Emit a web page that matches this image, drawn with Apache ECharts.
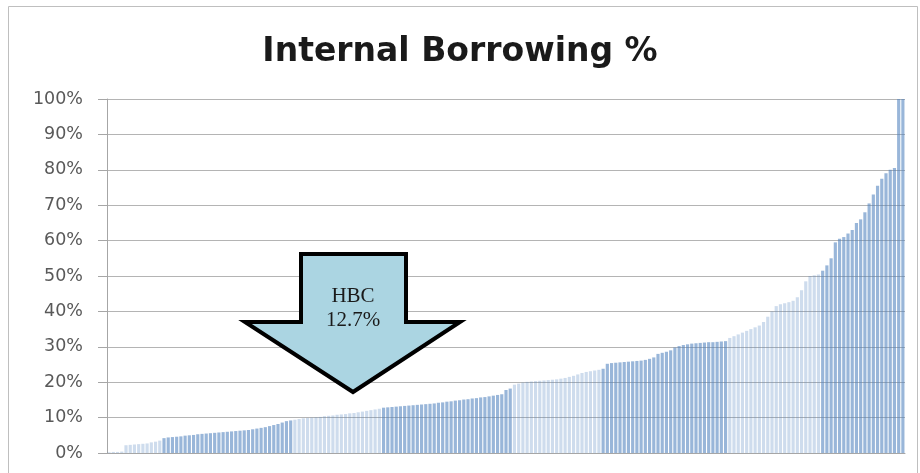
<!DOCTYPE html>
<html>
<head>
<meta charset="utf-8">
<script src="https://cdn.jsdelivr.net/npm/echarts@6/dist/echarts.min.js"></script>
<style>
html,body{margin:0;padding:0;background:#fff;}
#chart{width:920px;height:473px;}
</style>
</head>
<body>
<div id="chart"></div>
<script>
// Values (%), sorted ascending, grouped into alternating bands
const bandA = [0.2,0.3,0.3,0.4,2.2,2.3,2.4,2.5,2.6,2.7,3.0,3.2,3.5];
const bandB = [4.2,4.4,4.5,4.6,4.7,4.9,5.0,5.1,5.3,5.4,5.5,5.6,5.7,5.8,5.9,6.0,6.1,6.2,6.3,6.4,6.5,6.7,6.9,7.1,7.3,7.6,7.9,8.2,8.6,9.0,9.2];
const bandC = [9.4,9.6,9.8,9.9,10.0,10.1,10.2,10.4,10.5,10.6,10.8,10.9,11.0,11.2,11.3,11.5,11.7,11.9,12.1,12.3,12.5];
const bandD = [12.8,12.9,13.0,13.1,13.2,13.3,13.4,13.5,13.6,13.7,13.8,13.9,14.0,14.2,14.3,14.5,14.6,14.8,14.9,15.1,15.2,15.4,15.5,15.7,15.8,16.0,16.2,16.4,16.6,17.8,18.2];
const bandE = [19.3,19.6,19.9,20.1,20.2,20.3,20.4,20.5,20.6,20.7,20.8,21.0,21.2,21.5,21.8,22.2,22.6,22.9,23.1,23.3,23.5];
const bandF = [23.8,25.2,25.4,25.5,25.6,25.7,25.8,25.9,26.0,26.1,26.3,26.6,27.0,28.0,28.3,28.6,29.0,29.8,30.2,30.5,30.7,30.9,31.0,31.1,31.2,31.3,31.3,31.4,31.5,31.6];
const bandG = [32.5,33.0,33.5,34.0,34.5,35.0,35.5,36.0,37.0,38.5,40.0,41.5,42.0,42.3,42.6,43.0,44.0,46.0,48.5,50.0,50.2,50.4];
const bandH = [51.5,53.0,55.0,59.5,60.5,61.0,62.0,63.0,65.0,66.0,68.0,70.5,73.0,75.5,77.5,79.0,80.0,80.5,100,100];
const bands = [bandA,bandB,bandC,bandD,bandE,bandF,bandG,bandH];
const yTicks = [0,10,20,30,40,50,60,70,80,90,100];
const titleText = 'Internal Borrowing %';
const annotationLines = ['HBC','12.7%'];

const lightColor = 'rgba(79,129,189,0.28)';
const darkColor = 'rgba(79,129,189,0.58)';

const data = [];
const cats = [];
bands.forEach((b, bi) => {
  b.forEach(v => {
    cats.push(String(cats.length + 1));
    data.push({ value: v, itemStyle: { color: bi % 2 === 0 ? lightColor : darkColor } });
  });
});

const chart = echarts.init(document.getElementById('chart'), null, { renderer: 'canvas' });
chart.setOption({
  animation: false,
  backgroundColor: '#fff',
  title: {
    text: titleText,
    left: 'center',
    top: 31,
    textStyle: { fontFamily: 'DejaVu Sans', fontWeight: 'bold', fontSize: 33, color: '#1a1a1a' }
  },
  grid: { left: 107, right: 15, top: 99, bottom: 20, containLabel: false },
  xAxis: {
    type: 'category',
    data: cats,
    axisLine: { show: true, lineStyle: { color: '#a6a6a6', width: 1 } },
    axisTick: { show: false },
    axisLabel: { show: false },
    splitLine: { show: false }
  },
  yAxis: {
    type: 'value',
    min: yTicks[0],
    max: yTicks[yTicks.length - 1],
    interval: 10,
    axisLine: { show: true, lineStyle: { color: '#a6a6a6', width: 1 } },
    axisTick: { show: true, length: 9, lineStyle: { color: '#a6a6a6' } },
    axisLabel: { formatter: '{value}%', fontFamily: 'DejaVu Sans', fontSize: 17.5, color: '#595959', margin: 24 },
    splitLine: { show: true, lineStyle: { color: '#b4b4b4', width: 1 } }
  },
  series: [{
    type: 'bar',
    data: data,
    barCategoryGap: '25%',
    z: 3
  }],
  graphic: [
    {
      type: 'rect',
      shape: { x: 8.5, y: 6.5, width: 909, height: 480 },
      style: { fill: null, stroke: '#bfbfbf', lineWidth: 1 },
      silent: true
    },
    {
      type: 'polygon',
      z: 100,
      shape: { points: [[301,254],[406,254],[406,322],[460,322],[353,392],[245,322],[301,322]] },
      style: { fill: '#abd5e2', stroke: '#000', lineWidth: 4, lineJoin: 'miter' }
    },
    {
      type: 'text',
      z: 101,
      x: 353,
      y: 284,
      style: {
        text: annotationLines.join('\n'),
        fontFamily: 'Liberation Serif',
        fontSize: 21,
        lineHeight: 24,
        fill: '#1a1a1a',
        align: 'center',
        textAlign: 'center'
      }
    }
  ]
});
</script>
</body>
</html>
